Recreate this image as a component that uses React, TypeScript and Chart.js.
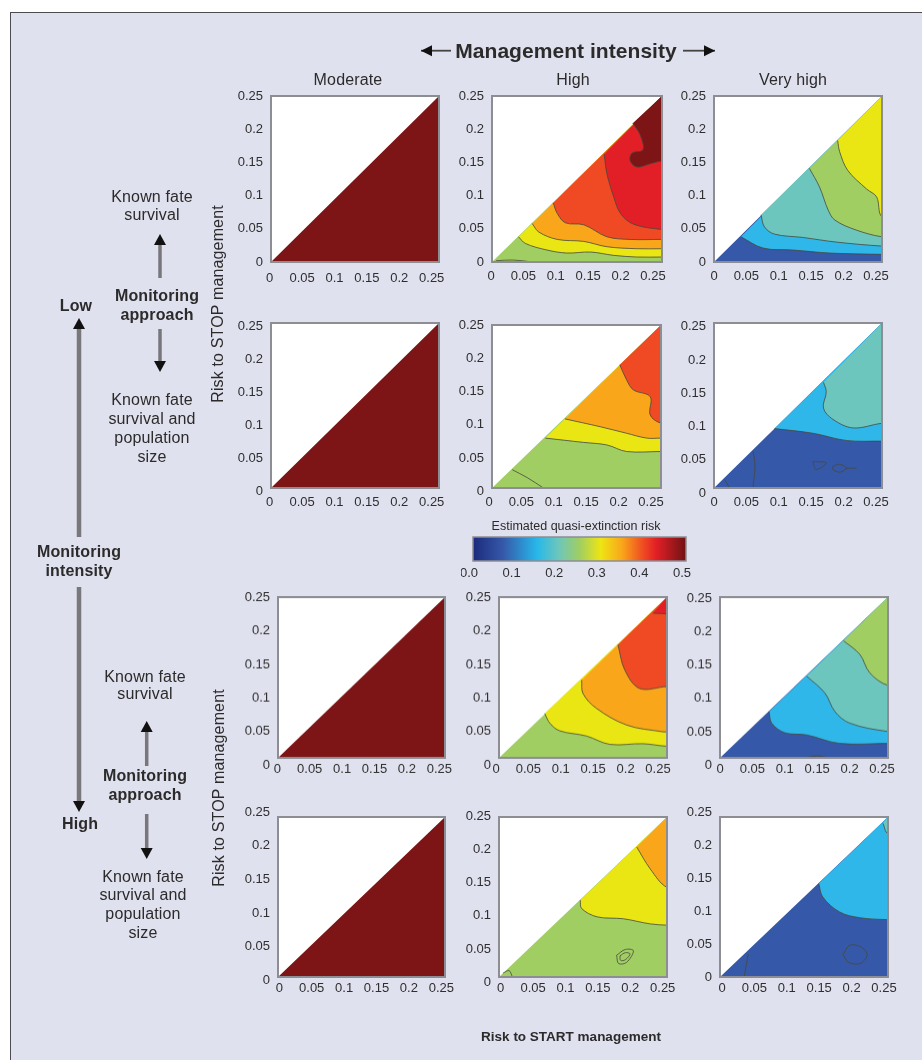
import React, { useEffect, useRef } from "react";
import { Chart, registerables } from "chart.js";

Chart.register(...registerables);

type Pair = [number, number];
type Level = { level: string; curve: Pair[] };
type PanelData = { base: string; levels: Level[]; marks: Pair[][] };

const RISK_COLORS: Record<string, string> = {
  blue: "#3658a8",
  sky: "#2fb7ea",
  teal: "#6cc6bd",
  green: "#a0ce63",
  yellow: "#e9e613",
  orange: "#f9a61a",
  orangeRed: "#ef4a23",
  red: "#e21f26",
  darkRed: "#7d1416",
};

const TICK_VALUES = [0, 0.05, 0.1, 0.15, 0.2, 0.25];
const TICK_LABELS = ["0", "0.05", "0.1", "0.15", "0.2", "0.25"];
const COLORBAR_STOPS: [number, string][] = [
  [0, "#1c2a7c"], [0.14, "#3658a8"], [0.3, "#27b7ea"], [0.4, "#6cc6bd"], [0.5, "#a0ce63"],
  [0.6, "#eee514"], [0.7, "#f9a61a"], [0.8, "#ef4a23"], [0.86, "#e21f26"], [1, "#701214"],
];
const COLORBAR_TICKS = ["0.0", "0.1", "0.2", "0.3", "0.4", "0.5"];
const COLUMN_TITLES = ["Moderate", "High", "Very high"];

const moderateAny: PanelData = { base: "darkRed", levels: [], marks: [] };

const highLowFate: PanelData = {
  base: "green",
  levels: [
    { level: "yellow", curve: [[0.039, 0.038], [0.049, 0.028], [0.081, 0.018], [0.11, 0.0135], [0.145, 0.015], [0.179, 0.01], [0.213, 0.0075], [0.25, 0.0075]] },
    { level: "orange", curve: [[0.059, 0.058], [0.069, 0.045], [0.096, 0.034], [0.135, 0.031], [0.169, 0.023], [0.213, 0.02], [0.25, 0.02]] },
    { level: "orangeRed", curve: [[0.09, 0.089], [0.096, 0.073], [0.108, 0.059], [0.135, 0.056], [0.169, 0.038], [0.203, 0.034], [0.25, 0.034]] },
    { level: "red", curve: [[0.165, 0.162], [0.169, 0.133], [0.179, 0.098], [0.189, 0.073], [0.208, 0.057], [0.25, 0.049]] },
    { level: "darkRed", curve: [[0.207, 0.209], [0.218, 0.191], [0.222, 0.169], [0.206, 0.164], [0.203, 0.153], [0.213, 0.143], [0.233, 0.148], [0.25, 0.152]] },
  ],
  marks: [[[0.006, 0.002], [0.03, 0.003], [0.052, 0.001]]],
};

const veryHighLowFate: PanelData = {
  base: "blue",
  levels: [
    { level: "sky", curve: [[0.04, 0.038], [0.073, 0.021], [0.118, 0.018], [0.172, 0.0135], [0.25, 0.0115]] },
    { level: "teal", curve: [[0.07, 0.071], [0.075, 0.053], [0.09, 0.042], [0.132, 0.037], [0.182, 0.03], [0.25, 0.024]] },
    { level: "green", curve: [[0.142, 0.141], [0.157, 0.113], [0.17, 0.078], [0.18, 0.063], [0.212, 0.048], [0.25, 0.038]] },
    { level: "yellow", curve: [[0.184, 0.183], [0.187, 0.166], [0.199, 0.138], [0.227, 0.11], [0.242, 0.098], [0.25, 0.068]] },
  ],
  marks: [],
};

const highLowBoth: PanelData = {
  base: "green",
  levels: [
    { level: "yellow", curve: [[0.079, 0.0765], [0.135, 0.07], [0.17, 0.066], [0.199, 0.056], [0.25, 0.056]] },
    { level: "orange", curve: [[0.108, 0.106], [0.16, 0.094], [0.199, 0.084], [0.229, 0.0765], [0.25, 0.0765]] },
    { level: "orangeRed", curve: [[0.189, 0.189], [0.199, 0.166], [0.209, 0.1505], [0.234, 0.14], [0.234, 0.112], [0.25, 0.0995]] },
  ],
  marks: [[[0.03, 0.028], [0.052, 0.016], [0.076, 0]]],
};

const veryHighLowBoth: PanelData = {
  base: "blue",
  levels: [
    { level: "sky", curve: [[0.09, 0.09], [0.147, 0.083], [0.197, 0.072], [0.25, 0.071]] },
    { level: "teal", curve: [[0.163, 0.16], [0.167, 0.146], [0.163, 0.121], [0.177, 0.104], [0.207, 0.091], [0.25, 0.098]] },
  ],
  marks: [
    [[0.058, 0.056], [0.061, 0.035], [0.058, 0]],
    [[0.016, 0.0126], [0.023, 0]],
    [[0.147, 0.04], [0.167, 0.038], [0.152, 0.028], [0.147, 0.04]],
    [[0.177, 0.033], [0.187, 0.036], [0.197, 0.03], [0.187, 0.024], [0.177, 0.028], [0.177, 0.033]],
    [[0.197, 0.03], [0.212, 0.03]],
  ],
};

const highHighFate: PanelData = {
  base: "green",
  levels: [
    { level: "yellow", curve: [[0.068, 0.069], [0.076, 0.0535], [0.0906, 0.042], [0.13, 0.034], [0.165, 0.021], [0.214, 0.022], [0.25, 0.018]] },
    { level: "orange", curve: [[0.123, 0.121], [0.125, 0.1], [0.145, 0.077], [0.19, 0.051], [0.244, 0.0405], [0.25, 0.0405]] },
    { level: "orangeRed", curve: [[0.177, 0.176], [0.187, 0.137], [0.209, 0.108], [0.25, 0.111]] },
    { level: "red", curve: [[0.229, 0.225], [0.25, 0.224]] },
  ],
  marks: [],
};

const veryHighHighFate: PanelData = {
  base: "blue",
  levels: [
    { level: "sky", curve: [[0.073, 0.072], [0.077, 0.054], [0.0965, 0.039], [0.129, 0.0356], [0.178, 0.0225], [0.25, 0.0225]] },
    { level: "teal", curve: [[0.129, 0.127], [0.156, 0.101], [0.171, 0.072], [0.193, 0.054], [0.25, 0.041]] },
    { level: "green", curve: [[0.184, 0.182], [0.208, 0.161], [0.223, 0.132], [0.25, 0.1125]] },
  ],
  marks: [[[0.131, 0.001], [0.145, 0.003], [0.158, 0.001]]],
};

const highHighBoth: PanelData = {
  base: "green",
  levels: [
    { level: "yellow", curve: [[0.121, 0.12], [0.123, 0.107], [0.146, 0.094], [0.185, 0.091], [0.225, 0.083], [0.25, 0.081]] },
    { level: "orange", curve: [[0.205, 0.203], [0.225, 0.169], [0.25, 0.14]] },
  ],
  marks: [
    [[0.175, 0.034], [0.188, 0.043], [0.2, 0.041], [0.19, 0.023], [0.178, 0.021], [0.175, 0.034]],
    [[0.18, 0.033], [0.188, 0.038], [0.195, 0.036], [0.188, 0.027], [0.181, 0.026], [0.18, 0.033]],
    [[0.006, 0.006], [0.015, 0.01], [0.02, 0]],
  ],
};

const veryHighHighBoth: PanelData = {
  base: "blue",
  levels: [
    { level: "sky", curve: [[0.147, 0.146], [0.153, 0.125], [0.178, 0.1016], [0.208, 0.0927], [0.25, 0.0896]] },
    { level: "teal", curve: [[0.2426, 0.24], [0.25, 0.224]] },
  ],
  marks: [
    [[0.042, 0.036], [0.036, 0]],
    [[0.183, 0.035], [0.193, 0.0495], [0.21, 0.047], [0.219, 0.034], [0.208, 0.021], [0.191, 0.023], [0.183, 0.035]],
  ],
};

// Layout only: plot box, plus where the first/last tick labels sit on the printed figure.
const PANELS: { data: PanelData; box: number[]; xLabel0: number; yLabels: number[]; xPad: number }[] = [
  { data: moderateAny, box: [271, 439, 96, 262], xLabel0: 269.7, yLabels: [96, 262], xPad: 9 },
  { data: highLowFate, box: [492, 662, 96, 262], xLabel0: 491, yLabels: [96, 262], xPad: 7 },
  { data: veryHighLowFate, box: [714, 882, 96, 262], xLabel0: 714, yLabels: [96, 262], xPad: 7 },
  { data: moderateAny, box: [271, 439, 323, 488], xLabel0: 269.7, yLabels: [326, 491], xPad: 7 },
  { data: highLowBoth, box: [492, 661, 325, 488], xLabel0: 489, yLabels: [325.7, 491], xPad: 7 },
  { data: veryHighLowBoth, box: [714, 882, 323, 488], xLabel0: 714, yLabels: [326.7, 493], xPad: 7 },
  { data: moderateAny, box: [278, 445, 597, 757.7], xLabel0: 277.3, yLabels: [597, 765], xPad: 4 },
  { data: highHighFate, box: [499, 667, 597, 757.7], xLabel0: 496, yLabels: [597, 765], xPad: 4 },
  { data: veryHighHighFate, box: [720, 888, 597, 757.7], xLabel0: 720, yLabels: [598, 765], xPad: 4 },
  { data: moderateAny, box: [278, 445, 816.7, 976.7], xLabel0: 279.3, yLabels: [812, 980], xPad: 4 },
  { data: highHighBoth, box: [499, 667, 816.7, 976.7], xLabel0: 500.7, yLabels: [815.7, 982], xPad: 4 },
  { data: veryHighHighBoth, box: [720, 888, 816.7, 976.7], xLabel0: 722, yLabels: [812, 977], xPad: 4 },
];

const PAD = { left: 46, right: 14, top: 12, bottom: 30 };
const LABEL_SPAN = 162;
const TICK_FONT = { family: "'Liberation Sans',Arial,sans-serif", size: 13 };
const TICK_COLOR = "#2e2e2e";
const FRAME_COLOR = "#8d8d94";
const CONTOUR_COLOR = "rgba(70,72,60,0.8)";
const PAGE_BG = "#e0e1ee";
const SOFTEN = "blur(0.45px)";
const CONTOUR_TENSION = 0.35;

const pts = (c: Pair[]) => c.map(([x, y]) => ({ x, y }));
const AXIS_MAX = TICK_VALUES[TICK_VALUES.length - 1];
// Curves are carried past the right edge (the clip hides it) so smoothing does not hook at the frame.
const BEYOND = AXIS_MAX + 0.03;
const tail = (c: Pair[]) => ({ x: BEYOND, y: c[c.length - 1][1] });

const zeroPadding = (s: any) => {
  s.paddingLeft = 0;
  s.paddingRight = 0;
  s.paddingTop = 0;
  s.paddingBottom = 0;
};

const plotFrame = {
  id: "plotFrame",
  beforeDraw(chart: any) {
    const { ctx, chartArea: a } = chart;
    ctx.save();
    ctx.fillStyle = "#ffffff";
    ctx.fillRect(a.left, a.top, a.width, a.height);
    ctx.restore();
  },
  afterDraw(chart: any) {
    const { ctx, chartArea: a } = chart;
    ctx.save();
    ctx.strokeStyle = FRAME_COLOR;
    ctx.lineWidth = 2;
    ctx.strokeRect(a.left, a.top, a.width, a.height);
    ctx.restore();
  },
};

function buildDatasets(d: PanelData) {
  const sets: any[] = [];
  const polygon = (data: any[], color: string, tension: number) => ({
    data,
    showLine: true,
    pointRadius: 0,
    borderWidth: 0,
    borderColor: color,
    backgroundColor: color,
    fill: "shape",
    tension,
  });
  const line = (data: any[]) => ({
    data,
    showLine: true,
    pointRadius: 0,
    borderWidth: 1,
    borderColor: CONTOUR_COLOR,
    fill: false,
    tension: CONTOUR_TENSION,
  });
  sets.push(polygon(pts([[0, 0], [AXIS_MAX, AXIS_MAX], [AXIS_MAX, 0]]), RISK_COLORS[d.base], 0));
  d.levels.forEach((l) => {
    sets.push(polygon(
      [...pts(l.curve), tail(l.curve), { x: BEYOND, y: AXIS_MAX }, { x: AXIS_MAX, y: AXIS_MAX }],
      RISK_COLORS[l.level],
      CONTOUR_TENSION,
    ));
    sets.push(line([...pts(l.curve), tail(l.curve)]));
  });
  d.marks.forEach((m) => sets.push(line(pts(m))));
  return sets.map((s, i) => ({ ...s, order: sets.length - i }));
}

function Panel({ cfg }: { cfg: (typeof PANELS)[number] }) {
  const ref = useRef<HTMLCanvasElement>(null);
  const [l, r, t, b] = cfg.box;
  const w = r - l;
  const h = b - t;
  useEffect(() => {
    const [yT, yB] = cfg.yLabels;
    const chart = new Chart(ref.current!, {
      type: "scatter",
      data: { datasets: buildDatasets(cfg.data) },
      plugins: [plotFrame],
      options: {
        animation: false,
        responsive: false,
        layout: { padding: { top: PAD.top, right: PAD.right, left: 0, bottom: 0 } },
        plugins: { legend: { display: false }, tooltip: { enabled: false } },
        scales: {
          x: { type: "linear", display: false, min: 0, max: AXIS_MAX },
          y: { type: "linear", display: false, min: 0, max: AXIS_MAX },
          xLabels: {
            type: "linear",
            position: "bottom",
            min: 0,
            max: (AXIS_MAX * w) / LABEL_SPAN,
            grid: { display: false, drawTicks: false },
            border: { display: false },
            afterBuildTicks: (s: any) => { s.ticks = TICK_VALUES.map((value) => ({ value })); },
            afterFit: (s: any) => { s.height = PAD.bottom; zeroPadding(s); },
            ticks: {
              autoSkip: false, maxRotation: 0, minRotation: 0, padding: cfg.xPad,
              labelOffset: cfg.xLabel0 - l, font: TICK_FONT, color: TICK_COLOR,
              callback: (_: any, i: number) => TICK_LABELS[i],
            },
          },
          yLabels: {
            type: "linear",
            position: "left",
            min: 0,
            max: (AXIS_MAX * h) / (yB - yT),
            grid: { display: false, drawTicks: false },
            border: { display: false },
            afterBuildTicks: (s: any) => { s.ticks = TICK_VALUES.map((value) => ({ value })); },
            afterFit: (s: any) => { s.width = PAD.left; zeroPadding(s); },
            ticks: {
              autoSkip: false, padding: 8, labelOffset: yB - b, font: TICK_FONT, color: TICK_COLOR,
              callback: (_: any, i: number) => TICK_LABELS[i],
            },
          },
        },
      } as any,
    } as any);
    return () => chart.destroy();
  }, []);
  return (
    <canvas
      ref={ref}
      width={w + PAD.left + PAD.right}
      height={h + PAD.top + PAD.bottom}
      style={{ position: "absolute", left: l - PAD.left, top: t - PAD.top, width: w + PAD.left + PAD.right, height: h + PAD.top + PAD.bottom, filter: SOFTEN }}
    />
  );
}

function Colorbar() {
  const ref = useRef<HTMLCanvasElement>(null);
  const box = { l: 473, r: 686, t: 537, b: 561 };
  const pad = { left: 12, right: 12, top: 2, bottom: 22 };
  const W = box.r - box.l + pad.left + pad.right;
  const H = box.b - box.t + pad.top + pad.bottom;
  useEffect(() => {
    const chart = new Chart(ref.current!, {
      type: "bar",
      data: {
        labels: [""],
        datasets: [{
          data: [0.5],
          barPercentage: 1,
          categoryPercentage: 1,
          backgroundColor: (c: any) => {
            const a = c.chart.chartArea;
            if (!a) return "#000";
            const g = c.chart.ctx.createLinearGradient(a.left, 0, a.right, 0);
            COLORBAR_STOPS.forEach(([o, col]) => g.addColorStop(o, col));
            return g;
          },
        }],
      },
      plugins: [{
        id: "barFrame",
        afterDraw(ch: any) {
          const { ctx, chartArea: a } = ch;
          ctx.save();
          ctx.strokeStyle = FRAME_COLOR;
          ctx.lineWidth = 1.5;
          ctx.strokeRect(a.left, a.top, a.width, a.height);
          ctx.restore();
        },
      }],
      options: {
        animation: false,
        responsive: false,
        indexAxis: "y",
        layout: { padding: { left: pad.left, right: pad.right, top: pad.top, bottom: 0 } },
        plugins: { legend: { display: false }, tooltip: { enabled: false } },
        scales: {
          y: { display: false },
          x: {
            type: "linear", min: 0, max: 0.5,
            grid: { display: false, drawTicks: false },
            border: { display: false },
            afterFit: (s: any) => { s.height = pad.bottom; zeroPadding(s); },
            ticks: {
              stepSize: 0.1, padding: 5, maxRotation: 0, autoSkip: false, labelOffset: -4,
              font: TICK_FONT, color: TICK_COLOR,
              callback: (_: any, i: number) => COLORBAR_TICKS[i],
            },
          },
        },
      } as any,
    } as any);
    return () => chart.destroy();
  }, []);
  return (
    <canvas ref={ref} width={W} height={H}
      style={{ position: "absolute", left: box.l - pad.left, top: box.t - pad.top, width: W, height: H, filter: SOFTEN }} />
  );
}

const SANS = "'Liberation Sans',Arial,sans-serif";

function T({ x, y, s, bold, size = 16, rotate, spacing = 0.15 }: any) {
  return (
    <div style={{
      position: "absolute", left: x, top: y,
      transform: `translate(-50%,-50%)${rotate ? ` rotate(${rotate}deg)` : ""}`,
      whiteSpace: "nowrap", color: "#2b2b2b", lineHeight: 1,
      fontFamily: SANS,
      fontSize: size, fontWeight: bold ? 700 : 400,
      letterSpacing: spacing,
    }}>{s}</div>
  );
}

function VArrow({ x, tail, tip, sw = 3.5 }: any) {
  const dir = tip < tail ? 1 : -1;
  return (
    <g>
      <line x1={x} x2={x} y1={tail} y2={tip + dir * 8} stroke="#77777c" strokeWidth={sw} />
      <polygon points={`${x},${tip} ${x - 6},${tip + dir * 11} ${x + 6},${tip + dir * 11}`} fill="#111" />
    </g>
  );
}

function HArrow({ y, tail, tip }: any) {
  const dir = tip < tail ? 1 : -1;
  return (
    <g>
      <line x1={tail} x2={tip} y1={y} y2={y} stroke="#444" strokeWidth={1.8} />
      <polygon points={`${tip},${y} ${tip + dir * 11},${y - 5.5} ${tip + dir * 11},${y + 5.5}`} fill="#111" />
    </g>
  );
}

export default function App() {
  return (
    <div style={{ position: "absolute", left: 0, top: 0, width: 922, height: 1060, background: "#fff", overflow: "hidden" }}>
      <div style={{ position: "absolute", left: 10, top: 12, right: -4, bottom: -4, background: PAGE_BG, border: "1.5px solid #4c4c50", boxSizing: "border-box" }} />
      {PANELS.map((cfg, i) => <Panel key={i} cfg={cfg} />)}
      <Colorbar />
      <svg width={922} height={1060} style={{ position: "absolute", left: 0, top: 0, pointerEvents: "none", filter: SOFTEN }}>
        <HArrow y={50.7} tail={451} tip={421} />
        <HArrow y={50.7} tail={683} tip={715} />
        <VArrow x={160} tail={278} tip={234} />
        <VArrow x={160} tail={329} tip={372} />
        <VArrow x={79} tail={537} tip={318} sw={4.5} />
        <VArrow x={79} tail={587} tip={812} sw={4.5} />
        <VArrow x={146.7} tail={766} tip={721} />
        <VArrow x={146.7} tail={814} tip={859} />
      </svg>
      <T x={566} y={50} s="Management intensity" bold size={21} spacing={0.05} />
      <T x={348} y={80} s={COLUMN_TITLES[0]} />
      <T x={573} y={80} s={COLUMN_TITLES[1]} />
      <T x={793} y={80} s={COLUMN_TITLES[2]} />

      <T x={152} y={197} s="Known fate" />
      <T x={152} y={215} s="survival" />
      <T x={157} y={296} s="Monitoring" bold />
      <T x={157} y={315} s="approach" bold />
      <T x={152} y={400} s="Known fate" />
      <T x={152} y={419} s="survival and" />
      <T x={152} y={438} s="population" />
      <T x={152} y={457} s="size" />
      <T x={76} y={306} s="Low" bold />
      <T x={79} y={552} s="Monitoring" bold />
      <T x={79} y={571} s="intensity" bold />
      <T x={80} y={824} s="High" bold />
      <T x={145} y={676.6} s="Known fate" />
      <T x={145} y={694.4} s="survival" />
      <T x={145} y={775.7} s="Monitoring" bold />
      <T x={145} y={794.6} s="approach" bold />
      <T x={143} y={877} s="Known fate" />
      <T x={143} y={895} s="survival and" />
      <T x={143} y={914} s="population" />
      <T x={143} y={932.6} s="size" />
      <T x={218} y={304} s="Risk to STOP management" rotate={-90} />
      <T x={219} y={788} s="Risk to STOP management" rotate={-90} />
      <T x={576} y={525.7} s="Estimated quasi-extinction risk" size={12.5} spacing={0} />
      <T x={571} y={1037} s="Risk to START management" bold size={13.5} spacing={0} />
    </div>
  );
}
